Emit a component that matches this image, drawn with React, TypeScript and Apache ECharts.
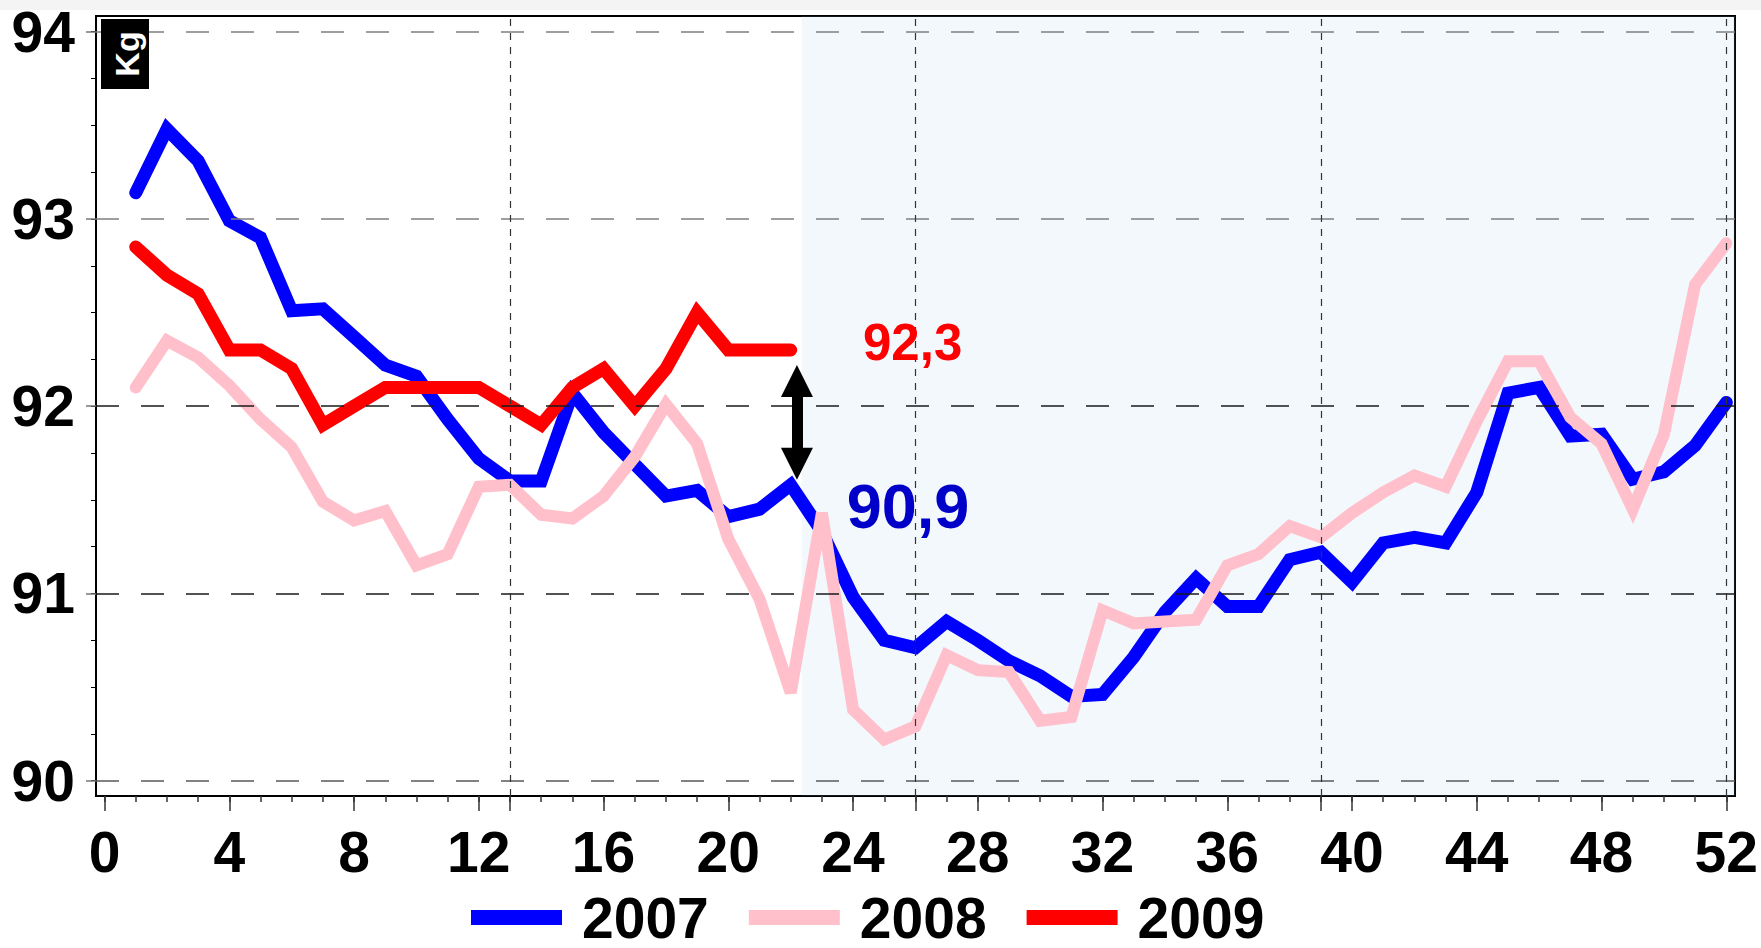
import React, { useEffect, useRef } from 'react';
import * as echarts from 'echarts';

const seriesNames = ['2007', '2008', '2009'];

const values2007 = [
  93.14, 93.48, 93.31, 92.99, 92.9, 92.51, 92.52, 92.37, 92.22, 92.16,
  91.93, 91.72, 91.6, 91.6, 92.07, 91.86, 91.69, 91.52, 91.55, 91.41,
  91.45, 91.58, 91.33, 90.98, 90.75, 90.71, 90.85, 90.75, 90.64, 90.56,
  90.45, 90.46, 90.66, 90.9, 91.08, 90.93, 90.93, 91.18, 91.22, 91.06,
  91.27, 91.3, 91.27, 91.54, 92.07, 92.1, 91.84, 91.85, 91.61, 91.65,
  91.79, 92.02,
];

const values2008 = [
  92.1, 92.35, 92.26, 92.11, 91.93, 91.78, 91.49, 91.39, 91.44, 91.15,
  91.21, 91.57, 91.58, 91.42, 91.4, 91.52, 91.73, 92.01, 91.8, 91.29,
  90.97, 90.47, 91.43, 90.38, 90.22, 90.29, 90.67, 90.59, 90.58, 90.32,
  90.34, 90.91, 90.84, 90.85, 90.86, 91.15, 91.21, 91.36, 91.3, 91.43,
  91.54, 91.63, 91.57, 91.92, 92.24, 92.24, 91.94, 91.8, 91.45, 91.85,
  92.65, 92.87,
];

const values2009 = [
  92.85, 92.7, 92.6, 92.3, 92.3, 92.2, 91.9, 92.0, 92.1, 92.1,
  92.1, 92.1, 92.0, 91.9, 92.1, 92.2, 92.0, 92.2, 92.5, 92.3,
  92.3, 92.3,
];

const xLabelValues = [0, 4, 8, 12, 16, 20, 24, 28, 32, 36, 40, 44, 48, 52];
const xMajorTicks = [0, 4, 8, 12, 13, 16, 20, 24, 26, 28, 32, 36, 39, 40, 44, 48, 52];
const xMinorTicks = Array.from({ length: 53 }, (_, i) => i);
const quarterLines = [13, 26, 39, 52];
const yLabelValues = [90, 91, 92, 93, 94];
const yMinorTicks = Array.from({ length: 17 }, (_, i) => 90 + i * 0.25);
const gridLineColors = ['#5a5a5a', '#1a1a1a', '#1a1a1a', '#7f7f7f', '#7f7f7f'];

const X_MIN = -0.275;
const X_MAX = 52.278;
const Y_MIN = 89.918;
const Y_MAX = 94.084;
const SHADE_START = 22.35;

const arrowX = 22.2;
const arrowTop = 92.135;
const arrowBottom = 91.692;
const label2009 = { text: '92,3', x: 25.91, y: 92.338 };
const label2007 = { text: '90,9', x: 25.76, y: 91.465 };

const LABEL_FONT = "'Liberation Sans Narrow', 'Arial Narrow', 'Liberation Sans', Arial, sans-serif";
const SANS = "'Liberation Sans', Arial, sans-serif";
const LABEL_SIZE = 57;

const toPairs = (vals: number[]) => vals.map((v, i) => [i + 1, v]);

export default function App() {
  const ref = useRef<HTMLDivElement>(null);

  useEffect(() => {
    if (!ref.current) return;
    const chart = echarts.init(ref.current, undefined, { renderer: 'svg' });

    const lineBase = (name: string, vals: number[], color: string, width: number) => ({
      name,
      type: 'line',
      data: toPairs(vals),
      symbol: 'none',
      z: 2,
      itemStyle: { color },
      lineStyle: { color, width, cap: 'round', join: 'miter' },
      silent: true,
    });

    const option: any = {
      animation: false,
      backgroundColor: '#ffffff',
      grid: {
        left: 96,
        right: 21,
        top: 16,
        bottom: 152,
        show: true,
        borderColor: '#000',
        borderWidth: 2,
        backgroundColor: 'transparent',
      },
      legend: {
        data: seriesNames,
        left: 466,
        top: 884,
        padding: 5,
        itemWidth: 91,
        itemHeight: 15,
        itemGap: 40,
        icon: 'rect',
        textStyle: {
          fontSize: LABEL_SIZE,
          fontWeight: 'bold',
          fontFamily: LABEL_FONT,
          color: '#000',
          padding: [0, 0, 0, 15],
        },
        selectedMode: false,
      },
      xAxis: [
        {
          type: 'value',
          min: X_MIN,
          max: X_MAX,
          axisLine: { show: true, onZero: false, lineStyle: { color: '#000', width: 2 } },
          axisTick: {
            show: true,
            customValues: xMinorTicks,
            length: 6,
            lineStyle: { color: '#333', width: 1.5 },
          },
          axisLabel: {
            customValues: xLabelValues,
            fontSize: LABEL_SIZE,
            fontWeight: 'bold',
            fontFamily: LABEL_FONT,
            color: '#000',
            margin: 27,
          },
          splitLine: { show: false },
        },
        {
          type: 'value',
          position: 'bottom',
          min: X_MIN,
          max: X_MAX,
          axisLine: { show: false, onZero: false },
          axisTick: {
            show: true,
            customValues: xMajorTicks,
            length: 15,
            lineStyle: { color: '#333', width: 1.5 },
          },
          axisLabel: { show: false },
          splitLine: { show: false },
        },
      ],
      yAxis: [
        {
          type: 'value',
          min: Y_MIN,
          max: Y_MAX,
          axisLine: { show: true, onZero: false, lineStyle: { color: '#000', width: 2 } },
          axisTick: {
            show: true,
            customValues: yMinorTicks,
            length: 5,
            lineStyle: { color: '#000', width: 1 },
          },
          axisLabel: {
            customValues: yLabelValues,
            fontSize: LABEL_SIZE,
            fontWeight: 'bold',
            fontFamily: LABEL_FONT,
            color: '#000',
            margin: 21,
          },
          splitLine: { show: false },
        },
        {
          type: 'value',
          position: 'left',
          min: Y_MIN,
          max: Y_MAX,
          axisLine: { show: false, onZero: false },
          axisTick: {
            show: true,
            customValues: yLabelValues,
            length: 10,
            lineStyle: { color: '#777', width: 1.5 },
          },
          axisLabel: { show: false },
          splitLine: { show: false },
        },
      ],
      series: [
        {
          name: 'gridlines',
          type: 'line',
          data: [],
          z: 1,
          silent: true,
          markLine: {
            silent: true,
            symbol: ['none', 'none'],
            label: { show: false },
            animation: false,
            data: [
              ...yLabelValues.map((v, i) => ({
                yAxis: v,
                lineStyle: { color: gridLineColors[i], width: 1.5, type: [23, 22] },
              })),
              ...quarterLines.map((v) => ({
                xAxis: v,
                lineStyle: { color: '#333', width: 1.2, type: [7, 7] },
              })),
            ],
          },
        },
        lineBase('2007', values2007, '#0000ff', 13),
        lineBase('2008', values2008, '#ffc0cb', 12),
        lineBase('2009', values2009, '#ff0000', 13),
        {
          name: 'shade',
          type: 'line',
          data: [],
          z: 5,
          silent: true,
          markArea: {
            silent: true,
            itemStyle: { color: 'rgba(160,199,239,0.125)' },
            data: [[{ xAxis: SHADE_START }, { xAxis: X_MAX }]],
          },
        },
        {
          name: 'annotations',
          type: 'line',
          data: [],
          z: 10,
          silent: true,
          markLine: {
            silent: true,
            symbol: ['triangle', 'triangle'],
            symbolSize: [32, 32],
            label: { show: false },
            lineStyle: { color: '#000', width: 11, type: 'solid' },
            data: [[{ coord: [arrowX, arrowTop] }, { coord: [arrowX, arrowBottom] }]],
          },
          markPoint: {
            silent: true,
            symbol: 'circle',
            symbolSize: 1,
            itemStyle: { color: 'rgba(0,0,0,0)' },
            data: [
              {
                name: label2009.text,
                coord: [label2009.x, label2009.y],
                label: {
                  show: true,
                  position: 'inside',
                  formatter: '{b}',
                  color: '#ff0000',
                  fontSize: 51,
                  fontWeight: 'bold',
                  fontFamily: SANS,
                },
              },
              {
                name: label2007.text,
                coord: [label2007.x, label2007.y],
                label: {
                  show: true,
                  position: 'inside',
                  formatter: '{b}',
                  color: '#0000c8',
                  fontSize: 63,
                  fontWeight: 'bold',
                  fontFamily: SANS,
                },
              },
            ],
          },
        },
      ],
      graphic: [
        {
          type: 'rect',
          shape: { x: 0, y: 0, width: 1761, height: 10 },
          style: { fill: '#f4f4f4' },
          z: 100,
        },
        {
          type: 'rect',
          shape: { x: 101, y: 19, width: 48, height: 70 },
          style: { fill: '#000' },
          z: 100,
        },
        {
          type: 'text',
          x: 127,
          y: 54,
          rotation: Math.PI / 2,
          z: 101,
          style: {
            text: 'Kg',
            fill: '#fff',
            fontSize: 34,
            fontWeight: 'bold',
            fontFamily: SANS,
            align: 'center',
            verticalAlign: 'middle',
          },
        },
      ],
    };

    chart.setOption(option);
    return () => chart.dispose();
  }, []);

  return (
    <div
      ref={ref}
      style={{ position: 'absolute', left: 0, top: 0, width: 1761, height: 948, background: '#fff' }}
    />
  );
}
